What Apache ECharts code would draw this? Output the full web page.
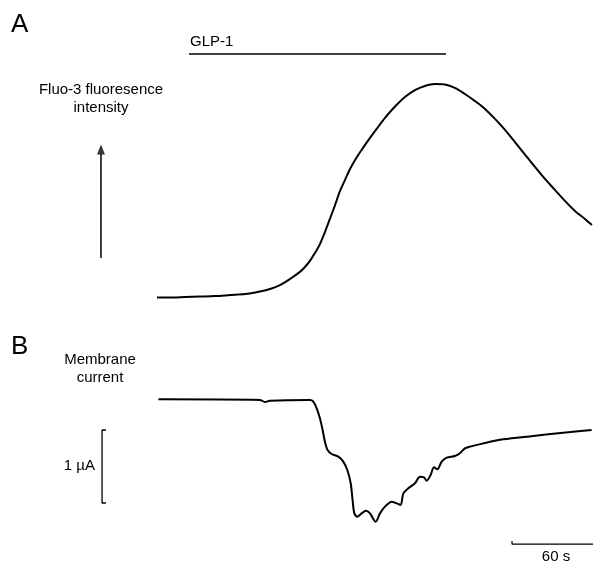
<!DOCTYPE html>
<html>
<head>
<meta charset="utf-8">
<script src="https://cdn.jsdelivr.net/npm/echarts@6/dist/echarts.min.js"></script>
<style>
html,body{margin:0;padding:0;background:#fff;}
#c{width:593px;height:563px;}
</style>
</head>
<body>
<div id="c"></div>
<script>
// ---- Data (time in s, fluorescence in a.u. 0..1, current in µA) ----
const timeA = [0, 9.6, 20.7, 31.9, 43.0, 54.1, 65.2, 76.3, 83.7, 91.1, 98.5, 105.9, 109.6, 113.3, 117.0, 120.7, 124.4, 128.1, 131.9, 135.6, 139.3, 143.0, 148.1, 152.6, 157.8, 163.0, 168.9, 176.3, 183.7, 191.1, 198.5, 205.9, 213.3, 220.7, 228.1, 235.6, 243.0, 250.4, 257.8, 265.2, 272.6, 280.0, 287.4, 294.8, 302.2, 309.6, 317.0, 322.2];
const fluo  = [0.002, 0.002, 0.004, 0.006, 0.008, 0.012, 0.016, 0.027, 0.037, 0.053, 0.078, 0.107, 0.127, 0.152, 0.184, 0.221, 0.270, 0.324, 0.381, 0.439, 0.484, 0.529, 0.578, 0.615, 0.656, 0.695, 0.738, 0.785, 0.824, 0.852, 0.869, 0.877, 0.875, 0.861, 0.836, 0.807, 0.775, 0.734, 0.689, 0.639, 0.588, 0.537, 0.488, 0.443, 0.398, 0.357, 0.324, 0.299];

const timeB = [1.0, 76.3, 80.0, 83.7, 113.3, 115.8, 118.3, 120.7, 122.7, 124.4, 126.4, 129.4, 134.3, 138.0, 141.0, 143.5, 144.9, 146.2, 148.4, 151.6, 154.8, 157.8, 162.0, 165.2, 168.9, 173.9, 177.6, 180.5, 182.5, 186.2, 191.1, 194.8, 197.8, 199.8, 202.7, 205.2, 207.7, 210.9, 214.6, 220.7, 224.4, 228.1, 231.9, 241.7, 256.5, 278.7, 301.0, 322.0];
const current = [0.009, 0.0, -0.027, -0.009, 0.0, -0.023, -0.114, -0.251, -0.411, -0.571, -0.685, -0.740, -0.776, -0.845, -0.959, -1.141, -1.370, -1.553, -1.598, -1.553, -1.516, -1.553, -1.667, -1.553, -1.461, -1.393, -1.416, -1.438, -1.279, -1.210, -1.141, -1.050, -1.059, -1.105, -1.027, -0.922, -0.950, -0.845, -0.790, -0.767, -0.730, -0.662, -0.639, -0.594, -0.539, -0.493, -0.447, -0.411];

const glpTimes = [23.7, 214.1];       // GLP-1 application (s)
const glpLevel = 1.0;
const timeScale = [263.0, 323.0];     // 60 s scale bar
const currentScale = [-0.411, -1.411];// 1 µA scale bar
const arrowTime = -41.5;
const arrowRange = [0.164, 0.590, 0.609];

const FONT = 'Liberation Sans, Arial, sans-serif';
const chart = echarts.init(document.getElementById('c'));

const xMin = -116.3, xMax = 323.0;

chart.setOption({
  animation: false,
  backgroundColor: '#fff',
  grid: [
    {left: 0, right: 0, top: 54, height: 244},
    {left: 0, right: 0, top: 378.1, height: 182.5}
  ],
  xAxis: [
    {type: 'value', gridIndex: 0, min: xMin, max: xMax, show: false},
    {type: 'value', gridIndex: 1, min: xMin, max: xMax, show: false}
  ],
  yAxis: [
    {type: 'value', gridIndex: 0, min: 0, max: 1, show: false},
    {type: 'value', gridIndex: 1, min: -2.2, max: 0.3, show: false}
  ],
  series: [
    {
      type: 'line', xAxisIndex: 0, yAxisIndex: 0, showSymbol: false, smooth: 0.3,
      lineStyle: {color: '#000', width: 2}, clip: false,
      data: timeA.map((t, i) => [t, fluo[i]])
    },
    {
      type: 'line', xAxisIndex: 1, yAxisIndex: 1, showSymbol: false, smooth: 0.3,
      lineStyle: {color: '#000', width: 2}, clip: false,
      data: timeB.map((t, i) => [t, current[i]])
    },
    {
      type: 'line', xAxisIndex: 0, yAxisIndex: 0, showSymbol: false, clip: false,
      lineStyle: {color: '#000', width: 1.5},
      data: glpTimes.map(t => [t, glpLevel])
    },
    {
      type: 'line', xAxisIndex: 0, yAxisIndex: 0, showSymbol: false, clip: false,
      lineStyle: {color: '#000', width: 1.5},
      data: [[arrowTime, arrowRange[0]], [arrowTime, arrowRange[1]]]
    },
    {
      type: 'scatter', xAxisIndex: 0, yAxisIndex: 0, symbol: 'triangle', symbolSize: [8, 10],
      itemStyle: {color: '#000'},
      data: [[arrowTime, arrowRange[2]]]
    },
    {
      type: 'line', xAxisIndex: 1, yAxisIndex: 1, showSymbol: false, clip: false,
      lineStyle: {color: '#000', width: 1.3},
      data: [[-37.8, currentScale[0]], [-40.7, currentScale[0]], [-40.7, currentScale[1]], [-37.8, currentScale[1]]]
    },
    {
      type: 'line', xAxisIndex: 1, yAxisIndex: 1, showSymbol: false, clip: false,
      lineStyle: {color: '#000', width: 1.2},
      data: [[timeScale[0], -1.932], [timeScale[0], -1.973], [timeScale[1], -1.973]]
    }
  ],
  graphic: [
    {type: 'text', left: 11, top: 12, style: {text: 'A', font: '26px ' + FONT, fill: '#000'}},
    {type: 'text', left: 11, top: 334, style: {text: 'B', font: '26px ' + FONT, fill: '#000'}},
    {type: 'text', left: 190, top: 34, style: {text: 'GLP-1', font: '15px ' + FONT, fill: '#000'}},
    {type: 'text', x: 101, y: 81, style: {text: 'Fluo-3 fluoresence\nintensity', font: '15px ' + FONT, fill: '#000', align: 'center', lineHeight: 18}},
    {type: 'text', x: 100, y: 351, style: {text: 'Membrane\ncurrent', font: '15px ' + FONT, fill: '#000', align: 'center', lineHeight: 18}},
    {type: 'text', x: 95, y: 458, style: {text: '1 \u00b5A', font: '15px ' + FONT, fill: '#000', align: 'right'}},
    {type: 'text', x: 556, y: 549, style: {text: '60 s', font: '15px ' + FONT, fill: '#000', align: 'center'}}
  ]
});
</script>
</body>
</html>
